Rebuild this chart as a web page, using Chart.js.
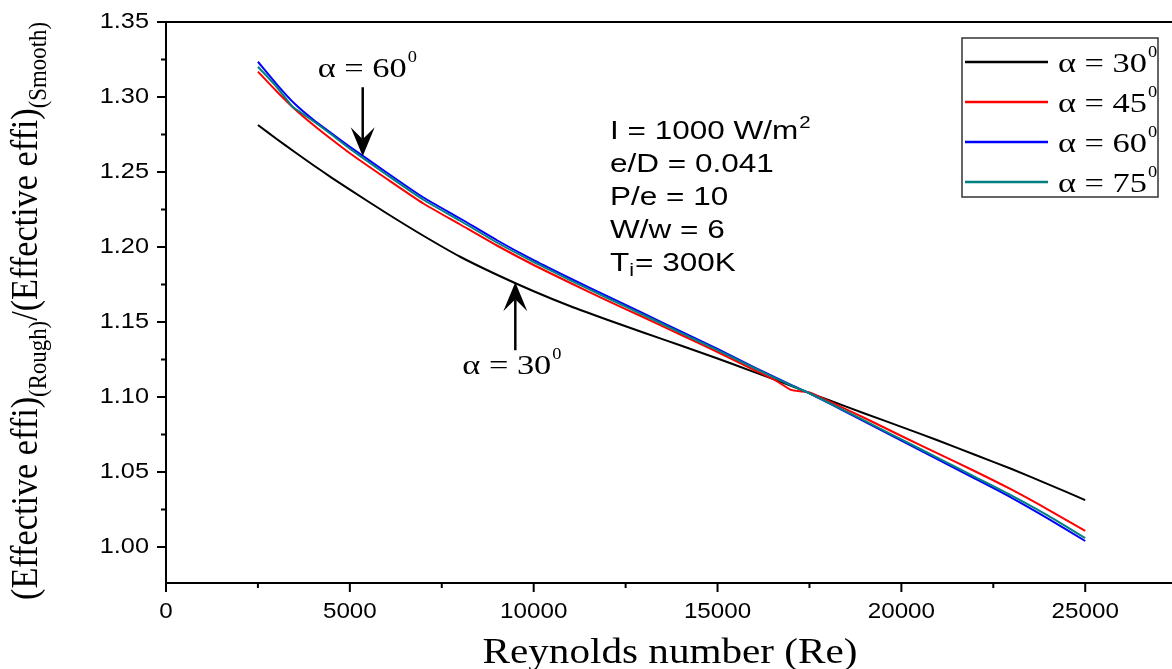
<!DOCTYPE html>
<html>
<head>
<meta charset="utf-8">
<script src="https://cdn.jsdelivr.net/npm/chart.js@4.4.1/dist/chart.umd.min.js"></script>
<style>
  html, body { margin: 0; padding: 0; background: #fff; }
</style>
</head>
<body>
<canvas id="effiChart" width="1172" height="669"></canvas>
<script>
// data
const reynolds = [2500, 3000, 3500, 4000, 4500, 5000, 6000, 7000, 8000, 9000, 10000, 11000, 12000, 13000,
    14000, 15000, 16000, 17000, 17500, 18000, 19000, 20000, 21000, 22000, 23000, 24000, 25000];
const ratio30 = [1.2813, 1.2722, 1.2633, 1.2547, 1.2463, 1.2382, 1.2225, 1.2075, 1.1935, 1.1815, 1.1705, 1.1605, 1.1515, 1.1428,
    1.1343, 1.1257, 1.1166, 1.1075, 1.1026, 1.0982, 1.0890, 1.0801, 1.0710, 1.0615, 1.0520, 1.0418, 1.0313];
const ratio60 = [1.3235, 1.3088, 1.2955, 1.2850, 1.2758, 1.2668, 1.2497, 1.2330, 1.2190, 1.2045, 1.1912, 1.1790, 1.1673, 1.1556,
    1.1437, 1.1320, 1.1197, 1.1080, 1.1025, 1.0962, 1.0836, 1.0710, 1.0583, 1.0456, 1.0328, 1.0188, 1.0040];

const reynolds45 = [2500, 3000, 3500, 4000, 4500, 5000, 6000, 7000, 8000, 9000, 10000, 11000, 12000, 13000, 14000,
    15000, 16000, 16600, 17000, 17300, 17500, 18000, 19000, 20000, 21000, 22000, 23000, 24000, 25000];
const ratio45 = [1.3169, 1.3040, 1.2920, 1.2815, 1.2718, 1.2625, 1.2455, 1.2290, 1.2150, 1.2010, 1.1880, 1.1760, 1.1643, 1.1530, 1.1415,
    1.1300, 1.1180, 1.1108, 1.1047, 1.1036, 1.1030, 1.0975, 1.0860, 1.0740, 1.0622, 1.0505, 1.0382, 1.0248, 1.0107];

const reynolds75 = [2500, 3000, 3440, 3500, 4000, 4500, 5000, 6000, 7000, 8000, 9000, 10000, 11000, 12000, 13000,
    14000, 15000, 16000, 17000, 17500, 18000, 19000, 20000, 21000, 22000, 23000, 24000, 25000];
const ratio75 = [1.3202, 1.3070, 1.2935, 1.2925, 1.2840, 1.2750, 1.2655, 1.2482, 1.2315, 1.2175, 1.2030, 1.1900, 1.1778, 1.1660, 1.1545,
    1.1428, 1.1312, 1.1192, 1.1078, 1.1025, 1.0965, 1.0842, 1.0717, 1.0593, 1.0468, 1.0343, 1.0208, 1.0060];

const angleLabels = ["30", "45", "60", "75"];
const lineColors = ["#000000", "#ff0000", "#0000ff", "#008080"];

const xTicks = [0, 5000, 10000, 15000, 20000, 25000];
const xMinorTicks = [2500, 7500, 12500, 17500, 22500];
const yTicks = [1.00, 1.05, 1.10, 1.15, 1.20, 1.25, 1.30, 1.35];
const yMinorTicks = [1.025, 1.075, 1.125, 1.175, 1.225, 1.275, 1.325];

const paramLines = ["I = 1000 W/m", "e/D = 0.041", "P/e = 10", "W/w = 6", "T"];

const SANS = '"Liberation Sans", Arial, sans-serif';
const SERIF = '"Liberation Serif", "Times New Roman", serif';

function toPoints(xs, ys) {
    return xs.map((x, i) => ({ x: x, y: ys[i] }));
}

// text squeezed/stretched horizontally, returns drawn width
function stretchText(ctx, text, x, y, font, sx, align) {
    ctx.save();
    ctx.font = font;
    const w = ctx.measureText(text).width * sx;
    let x0 = x;
    if (align === "center") x0 = x - w / 2;
    if (align === "right") x0 = x - w;
    ctx.translate(x0, y);
    ctx.scale(sx, 1);
    ctx.textAlign = "left";
    ctx.fillText(text, 0, 0);
    ctx.restore();
    return w;
}

function fitText(ctx, text, x, y, font, width, align) {
    ctx.save();
    ctx.font = font;
    const sx = width / ctx.measureText(text).width;
    ctx.restore();
    return stretchText(ctx, text, x, y, font, sx, align);
}

// "α = 30" with the little superscript 0
function drawAlpha(ctx, x, baseY, value) {
    const w = fitText(ctx, "\u03b1 = " + value, x, baseY, "28px " + SERIF, 89, "left");
    stretchText(ctx, "0", x + w + 1, baseY - 15, "16px " + SERIF, 1.15, "left");
}

function drawArrow(ctx, tipX, tipY, dir, len) {
    // dir = 1 points down, -1 points up
    const headLen = 29, half = 12, notch = 17;
    ctx.save();
    ctx.strokeStyle = "#000";
    ctx.fillStyle = "#000";
    ctx.lineWidth = 2.5;
    ctx.beginPath();
    ctx.moveTo(tipX, tipY - dir * len);
    ctx.lineTo(tipX, tipY - dir * notch);
    ctx.stroke();
    ctx.beginPath();
    ctx.moveTo(tipX, tipY);
    ctx.lineTo(tipX - half, tipY - dir * headLen);
    ctx.lineTo(tipX, tipY - dir * notch);
    ctx.lineTo(tipX + half, tipY - dir * headLen);
    ctx.closePath();
    ctx.fill();
    ctx.restore();
}

const decorPlugin = {
    id: "decor",
    afterDatasetsDraw(chart) {
        const ctx = chart.ctx;
        const area = chart.chartArea;
        const xs = chart.scales.x, ys = chart.scales.y;
        ctx.save();
        ctx.fillStyle = "#000";
        ctx.strokeStyle = "#000";

        // axes and top frame
        ctx.lineWidth = 2;
        ctx.beginPath();
        ctx.moveTo(area.left, area.top);
        ctx.lineTo(area.right, area.top);
        ctx.moveTo(area.left, area.top);
        ctx.lineTo(area.left, area.bottom + 9);
        ctx.moveTo(area.left - 1, area.bottom);
        ctx.lineTo(area.right, area.bottom);
        ctx.stroke();

        // x ticks
        ctx.textBaseline = "middle";
        xTicks.forEach(v => {
            const px = xs.getPixelForValue(v);
            ctx.beginPath();
            ctx.moveTo(px, area.bottom);
            ctx.lineTo(px, area.bottom + 9);
            ctx.stroke();
            stretchText(ctx, String(v), px, area.bottom + 29, "22px " + SANS, 1.1, "center");
        });
        xMinorTicks.forEach(v => {
            const px = xs.getPixelForValue(v);
            ctx.beginPath();
            ctx.moveTo(px, area.bottom);
            ctx.lineTo(px, area.bottom + 5);
            ctx.stroke();
        });

        // y ticks
        yTicks.forEach(v => {
            const py = ys.getPixelForValue(v);
            ctx.beginPath();
            ctx.moveTo(area.left - 9, py);
            ctx.lineTo(area.left, py);
            ctx.stroke();
            stretchText(ctx, v.toFixed(2), area.left - 17, py, "22px " + SANS, 1.15, "right");
        });
        yMinorTicks.forEach(v => {
            const py = ys.getPixelForValue(v);
            ctx.beginPath();
            ctx.moveTo(area.left - 5, py);
            ctx.lineTo(area.left, py);
            ctx.stroke();
        });

        // x title
        ctx.textBaseline = "alphabetic";
        fitText(ctx, "Reynolds number (Re)", 670, 663, "35px " + SERIF, 375, "center");

        // y title, rotated, with subscripts
        const parts = [
            ["(Effective effi)", 30, 0],
            ["(Rough)", 20, 7],
            ["/", 30, 0],
            ["(Effective effi)", 30, 0],
            ["(Smooth)", 20, 7]
        ];
        let total = 0;
        parts.forEach(p => {
            ctx.font = p[1] + "px " + SERIF;
            total += ctx.measureText(p[0]).width;
        });
        const along = 578 / total;
        ctx.save();
        ctx.translate(37, 600);
        ctx.rotate(-Math.PI / 2);
        ctx.scale(along, 1.25);
        let pos = 0;
        parts.forEach(p => {
            ctx.font = p[1] + "px " + SERIF;
            ctx.fillText(p[0], pos, p[2]);
            pos += ctx.measureText(p[0]).width;
        });
        ctx.restore();

        // parameter block
        const lineGap = 33;
        paramLines.forEach((t, i) => {
            const base = 139 + i * lineGap;
            const w = stretchText(ctx, t, 610, base, "25px " + SANS, 1.26, "left");
            if (i === 0) {
                stretchText(ctx, "2", 610 + w + 1, base - 11, "17px " + SANS, 1.2, "left");
            }
            if (i === 4) {
                const wi = stretchText(ctx, "i", 610 + w, base + 5, "18px " + SANS, 1.2, "left");
                stretchText(ctx, "= 300K", 610 + w + wi + 1, base, "25px " + SANS, 1.26, "left");
            }
        });

        // arrows pointing at curves
        const tip60 = { x: xs.getPixelForValue(5350), y: ys.getPixelForValue(1.2605) };
        drawArrow(ctx, tip60.x, tip60.y, 1, 69);
        drawAlpha(ctx, tip60.x - 45, tip60.y - 79, "60");

        const tip30 = { x: xs.getPixelForValue(9500), y: ys.getPixelForValue(1.1765) };
        drawArrow(ctx, tip30.x, tip30.y, -1, 68);
        drawAlpha(ctx, tip30.x - 53, tip30.y + 92, "30");

        // legend box
        const lx = 962, ly = 38, lw = 196, lh = 159;
        ctx.fillStyle = "#fff";
        ctx.fillRect(lx, ly, lw, lh);
        ctx.strokeStyle = "#333";
        ctx.lineWidth = 1.5;
        ctx.strokeRect(lx, ly, lw, lh);
        ctx.fillStyle = "#000";
        angleLabels.forEach((a, i) => {
            const rowY = 62 + i * 40;
            ctx.strokeStyle = lineColors[i];
            ctx.lineWidth = 2.5;
            ctx.beginPath();
            ctx.moveTo(965, rowY);
            ctx.lineTo(1048, rowY);
            ctx.stroke();
            drawAlpha(ctx, 1058, rowY + 10, a);
        });

        ctx.restore();
    }
};

const ctx = document.getElementById("effiChart").getContext("2d");

new Chart(ctx, {
    type: "line",
    data: {
        datasets: [
            { label: "\u03b1=30", data: toPoints(reynolds, ratio30), borderColor: lineColors[0], order: 4 },
            { label: "\u03b1=45", data: toPoints(reynolds45, ratio45), borderColor: lineColors[1], order: 3 },
            { label: "\u03b1=60", data: toPoints(reynolds, ratio60), borderColor: lineColors[2], order: 2 },
            { label: "\u03b1=75", data: toPoints(reynolds75, ratio75), borderColor: lineColors[3], order: 1 }
        ]
    },
    options: {
        responsive: false,
        animation: false,
        devicePixelRatio: 1,
        layout: { padding: { left: 166, top: 22, right: 0, bottom: 86 } },
        elements: {
            point: { radius: 0 },
            line: { borderWidth: 2, tension: 0.2, fill: false }
        },
        scales: {
            x: { type: "linear", min: 0, max: 27360, display: false },
            y: { type: "linear", min: 0.976, max: 1.35, display: false }
        },
        plugins: {
            legend: { display: false },
            tooltip: { enabled: false }
        }
    },
    plugins: [decorPlugin]
});
</script>
</body>
</html>
